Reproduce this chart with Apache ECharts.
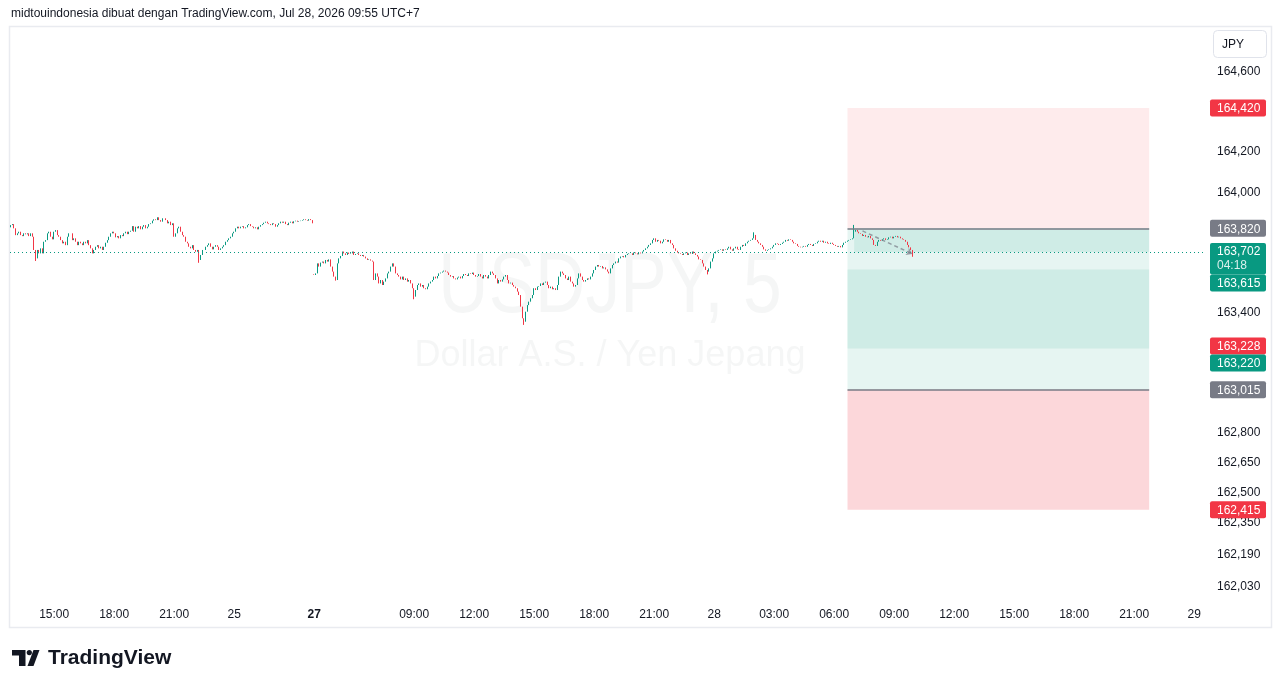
<!DOCTYPE html>
<html>
<head>
<meta charset="utf-8">
<title>USDJPY, 5</title>
<script src="https://cdn.jsdelivr.net/npm/echarts@6/dist/echarts.min.js"></script>
<style>
  html, body { margin: 0; padding: 0; background: #fff; }
  #chart { width: 1281px; height: 688px; }
</style>
</head>
<body>
<div id="chart"></div>
<script>
var FONT = '"Liberation Sans", Arial, sans-serif';

// 5-minute closes, Fri Jul 24 12:50 -> Sat Jul 25 03:55
var openJul24 = 163.825;
var closesJul24 = [
    163.836, 163.841, 163.820, 163.786, 163.795, 163.803, 163.786, 163.781, 163.795, 163.790, 163.795, 163.781,
    163.795, 163.778, 163.712, 163.670, 163.712, 163.695, 163.720, 163.695, 163.753, 163.761, 163.795, 163.803,
    163.778, 163.765, 163.803, 163.811, 163.786, 163.778, 163.761, 163.745, 163.753, 163.736, 163.778, 163.795,
    163.795, 163.761, 163.770, 163.753, 163.736, 163.753, 163.745, 163.736, 163.753, 163.745, 163.761, 163.736,
    163.720, 163.695, 163.712, 163.728, 163.736, 163.720, 163.728, 163.712, 163.728, 163.748, 163.761, 163.778,
    163.795, 163.803, 163.795, 163.775, 163.781, 163.770, 163.786, 163.781, 163.795, 163.803, 163.791, 163.803,
    163.808, 163.831, 163.803, 163.828, 163.820, 163.831, 163.815, 163.828, 163.836, 163.820, 163.828, 163.841,
    163.845, 163.858, 163.865, 163.861, 163.875, 163.861, 163.853, 163.870, 163.870, 163.861, 163.845, 163.853,
    163.836, 163.845, 163.778, 163.795, 163.820, 163.828, 163.803, 163.786, 163.778, 163.753, 163.745, 163.728,
    163.720, 163.736, 163.712, 163.703, 163.712, 163.662, 163.687, 163.712, 163.712, 163.728, 163.736, 163.745,
    163.728, 163.715, 163.728, 163.736, 163.728, 163.712, 163.720, 163.728, 163.736, 163.753, 163.761, 163.770,
    163.778, 163.795, 163.803, 163.820, 163.828, 163.820, 163.828, 163.831, 163.820, 163.825, 163.836, 163.841,
    163.831, 163.828, 163.820, 163.825, 163.815, 163.828, 163.836, 163.841, 163.848, 163.853, 163.845, 163.841,
    163.836, 163.845, 163.841, 163.828, 163.836, 163.845, 163.853, 163.848, 163.853, 163.841, 163.836, 163.848,
    163.853, 163.845, 163.855, 163.858, 163.853, 163.856, 163.858, 163.861, 163.865, 163.861, 163.858, 163.866,
    163.861, 163.845
];

// 5-minute closes, Mon Jul 27 04:00 -> Tue Jul 28 09:55
var openJul27 = 163.590;
var closesJul27 = [
    163.587, 163.595, 163.645, 163.629, 163.649, 163.654, 163.645, 163.662, 163.654, 163.665, 163.629, 163.604,
    163.579, 163.562, 163.645, 163.670, 163.682, 163.704, 163.695, 163.687, 163.699, 163.692, 163.695, 163.704,
    163.687, 163.692, 163.695, 163.687, 163.682, 163.687, 163.679, 163.670, 163.662, 163.665, 163.659, 163.654,
    163.562, 163.595, 163.579, 163.545, 163.562, 163.537, 163.554, 163.570, 163.595, 163.604, 163.629, 163.645,
    163.629, 163.595, 163.587, 163.579, 163.565, 163.579, 163.562, 163.570, 163.554, 163.562, 163.545, 163.521,
    163.479, 163.512, 163.537, 163.545, 163.529, 163.537, 163.521, 163.516, 163.529, 163.545, 163.554, 163.562,
    163.579, 163.570, 163.582, 163.595, 163.599, 163.604, 163.609, 163.604, 163.599, 163.587, 163.579, 163.582,
    163.570, 163.565, 163.574, 163.579, 163.570, 163.582, 163.592, 163.587, 163.582, 163.595, 163.592, 163.599,
    163.587, 163.579, 163.582, 163.592, 163.579, 163.570, 163.587, 163.579, 163.570, 163.587, 163.604, 163.595,
    163.587, 163.570, 163.545, 163.562, 163.554, 163.565, 163.579, 163.587, 163.562, 163.545, 163.549, 163.537,
    163.529, 163.521, 163.504, 163.487, 163.429, 163.371, 163.354, 163.404, 163.437, 163.454, 163.471, 163.487,
    163.521, 163.512, 163.529, 163.532, 163.545, 163.537, 163.549, 163.554, 163.537, 163.521, 163.529, 163.516,
    163.521, 163.512, 163.537, 163.579, 163.604, 163.595, 163.587, 163.570, 163.562, 163.579, 163.554, 163.545,
    163.529, 163.537, 163.570, 163.595, 163.579, 163.562, 163.554, 163.562, 163.570, 163.565, 163.579, 163.595,
    163.612, 163.629, 163.637, 163.629, 163.632, 163.620, 163.625, 163.615, 163.604, 163.595, 163.620, 163.637,
    163.645, 163.654, 163.649, 163.670, 163.679, 163.682, 163.675, 163.687, 163.692, 163.695,
    163.695, 163.687, 163.699, 163.695, 163.690, 163.699, 163.695, 163.704, 163.712, 163.720, 163.728, 163.737,
    163.745, 163.762, 163.770, 163.753, 163.762, 163.758, 163.745, 163.753, 163.765, 163.762, 163.753, 163.762,
    163.745, 163.737, 163.720, 163.708, 163.699, 163.695, 163.692, 163.687, 163.695, 163.699, 163.687, 163.695,
    163.692, 163.704, 163.695, 163.687, 163.679, 163.665, 163.662, 163.645, 163.629, 163.612, 163.604, 163.620,
    163.654, 163.670, 163.695, 163.704, 163.708, 163.712, 163.715, 163.708, 163.715, 163.712, 163.720, 163.728,
    163.715, 163.708, 163.720, 163.728, 163.715, 163.712, 163.728, 163.737, 163.732, 163.745, 163.753, 163.758,
    163.762, 163.770, 163.787, 163.762, 163.753, 163.745, 163.737, 163.728, 163.715, 163.708, 163.712, 163.715,
    163.720, 163.728, 163.737, 163.745, 163.742, 163.737, 163.742, 163.748, 163.753, 163.762, 163.758, 163.765,
    163.762, 163.753, 163.745, 163.742, 163.732, 163.728, 163.725, 163.728, 163.732, 163.728, 163.737, 163.742,
    163.737, 163.732, 163.742, 163.745, 163.753, 163.758, 163.753, 163.758, 163.748, 163.753, 163.745, 163.742,
    163.748, 163.742, 163.737, 163.732, 163.728, 163.732, 163.725, 163.737, 163.748, 163.753, 163.758, 163.762,
    163.765, 163.770, 163.803, 163.812, 163.803, 163.795, 163.792, 163.782, 163.787, 163.778, 163.775, 163.782,
    163.770, 163.762, 163.737, 163.732, 163.753, 163.762, 163.758, 163.765, 163.770, 163.762, 163.765, 163.775,
    163.778, 163.770, 163.778, 163.782, 163.775, 163.778, 163.770, 163.765, 163.762, 163.753, 163.737, 163.725,
    163.712, 163.702
];

// visible wick extremes (bar index, price)
var wickIdx = [15, 113, 195, 242, 308, 418, 446, 506, 541];
var wickPrice = [163.657, 163.648, 163.559, 163.466, 163.338, 163.590, 163.800, 163.837, 163.678];

var priceTicks = [164.6, 164.2, 164.0, 163.4, 162.8, 162.65, 162.5, 162.35, 162.19, 162.03];

var timeTicks = ['07-24 15:00', '07-24 18:00', '07-24 21:00', '07-25 00:00', '07-27 04:00', '07-27 09:00',
    '07-27 12:00', '07-27 15:00', '07-27 18:00', '07-27 21:00', '07-28 00:00', '07-28 03:00', '07-28 06:00',
    '07-28 09:00', '07-28 12:00', '07-28 15:00', '07-28 18:00', '07-28 21:00', '07-29 00:00'];
var timeTickText = ['15:00', '18:00', '21:00', '25', '27', '09:00', '12:00', '15:00', '18:00', '21:00',
    '28', '03:00', '06:00', '09:00', '12:00', '15:00', '18:00', '21:00', '29'];

var lastPrice = 163.702;
var countdown = '04:18';

// position tools
var shortEntry = 163.820, shortStop = 164.420, shortTarget = 163.220;
var longEntry = 163.015, longStop = 162.415, longTarget = 163.615;
var extraLevel = 163.228;
var posStart = '07-28 06:40', profitStart = '07-28 07:00', posEnd = '07-28 21:45';
var forecastTimes = ['07-28 07:25', '07-28 09:55'];
var forecastPrices = [163.807, 163.692];

var UP = '#089981', DOWN = '#f23645', GREY = '#787b86', TEXT = '#131722';

function pad(n) { return (n < 10 ? '0' : '') + n; }

function session(startMs, count) {
    var out = [];
    for (var i = 0; i < count; i++) {
        var d = new Date(startMs + i * 300000);
        out.push(pad(d.getUTCMonth() + 1) + '-' + pad(d.getUTCDate()) + ' ' + pad(d.getUTCHours()) + ':' + pad(d.getUTCMinutes()));
    }
    return out;
}

var categories = session(Date.UTC(2026, 6, 24, 12, 50), 182).concat(session(Date.UTC(2026, 6, 27, 4, 0), 535));

function toCandles(closes, firstOpen) {
    var out = [];
    var prev = firstOpen;
    closes.forEach(function (c) {
        out.push([prev, c, Math.min(prev, c), Math.max(prev, c)]);
        prev = c;
    });
    return out;
}

var candles = toCandles(closesJul24, openJul24).concat(toCandles(closesJul27, openJul27));
wickIdx.forEach(function (idx, n) {
    var k = candles[idx];
    var p = wickPrice[n];
    if (p < k[2]) k[2] = p;
    if (p > k[3]) k[3] = p;
});

var tickMap = {};
timeTicks.forEach(function (t, i) { tickMap[t] = timeTickText[i]; });

function fmt(v) { return v.toFixed(3).replace('.', ','); }

function zone(x1, x2, y1, y2, color) {
    return [{ xAxis: x1, yAxis: y1, itemStyle: { color: color } }, { xAxis: x2, yAxis: y2 }];
}

function hline(x1, x2, y, style) {
    return [{ coord: [x1, y], lineStyle: style }, { coord: [x2, y] }];
}

var chart = echarts.init(document.getElementById('chart'));

chart.setOption({
    animation: false,
    backgroundColor: '#ffffff',
    grid: { left: 10, top: 27, width: 1195, height: 571 },
    xAxis: {
        type: 'category',
        data: categories,
        boundaryGap: true,
        axisLine: { show: false },
        axisTick: { show: false },
        splitLine: { show: false },
        axisLabel: {
            interval: function (i, v) { return tickMap[v] !== undefined; },
            formatter: function (v) {
                var t = tickMap[v];
                return t === '27' ? '{b|27}' : t;
            },
            color: TEXT,
            fontSize: 12,
            fontFamily: FONT,
            margin: 11,
            rich: { b: { fontWeight: 'bold', fontSize: 12, color: TEXT, fontFamily: FONT } }
        }
    },
    yAxis: {
        type: 'value',
        position: 'right',
        min: 161.9752,
        max: 164.8246,
        axisLine: { show: false },
        axisTick: { show: false, customValues: priceTicks },
        splitLine: { show: false },
        axisLabel: {
            customValues: priceTicks,
            formatter: fmt,
            margin: 12,
            align: 'left',
            color: TEXT,
            fontSize: 12,
            fontFamily: FONT
        }
    },
    series: [
        {
            type: 'line',
            data: [],
            z: 1,
            silent: true,
            markArea: {
                silent: true,
                data: [
                    zone(posStart, posEnd, shortEntry, shortStop, 'rgba(242,54,69,0.1)'),
                    zone(posStart, posEnd, shortTarget, shortEntry, 'rgba(8,153,129,0.1)'),
                    zone(posStart, posEnd, longEntry, longTarget, 'rgba(8,153,129,0.1)'),
                    zone(posStart, posEnd, longStop, longEntry, 'rgba(242,54,69,0.2)'),
                    zone(profitStart, posEnd, lastPrice, shortEntry, 'rgba(8,153,129,0.1)')
                ]
            }
        },
        {
            type: 'candlestick',
            data: candles,
            z: 3,
            barWidth: 1.3,
            itemStyle: {
                color: UP, color0: DOWN,
                borderColor: UP, borderColor0: DOWN,
                borderWidth: 1
            },
            markLine: {
                silent: true,
                symbol: ['none', 'none'],
                label: { show: false },
                data: [
                    { yAxis: lastPrice, lineStyle: { color: UP, type: [1, 3], width: 1 } },
                    hline(posStart, posEnd, shortEntry, { color: GREY, type: 'solid', width: 1.5 }),
                    hline(posStart, posEnd, longEntry, { color: GREY, type: 'solid', width: 1.5 }),
                    [
                        { coord: [forecastTimes[0], forecastPrices[0]], symbol: 'none',
                          lineStyle: { color: 'rgba(120,123,134,0.7)', type: [4, 3], width: 1.5 } },
                        { coord: [forecastTimes[1], forecastPrices[1]], symbol: 'arrow', symbolSize: 6 }
                    ]
                ]
            }
        }
    ]
});

// price scale labels, header and logo
function py(v) { return chart.convertToPixel({ yAxisIndex: 0 }, v); }

var boxes = [
    { v: shortStop, bg: DOWN, dy: 0 },
    { v: shortEntry, bg: GREY, dy: 0 },
    { v: extraLevel, bg: DOWN, dy: -1 },
    { v: shortTarget, bg: UP, dy: 14.4 },
    { v: longEntry, bg: GREY, dy: 0 },
    { v: longStop, bg: DOWN, dy: 0 },
    { v: longTarget, bg: UP, dy: 13.6 }
];

var g = [];

g.push({
    type: 'rect', z: 0, silent: true,
    shape: { x: 9.5, y: 26.5, width: 1262, height: 601 },
    style: { fill: 'none', stroke: '#e9ebf0', lineWidth: 1.5 }
});

g.push({
    type: 'text', z: 0, silent: true, x: 610, y: 288, scaleX: 0.81,
    style: { text: 'USDJPY, 5', font: '86px ' + FONT, fill: 'rgba(120,123,134,0.07)', align: 'center', verticalAlign: 'middle' }
});
g.push({
    type: 'text', z: 0, silent: true, x: 610, y: 356,
    style: { text: 'Dollar A.S. / Yen Jepang', font: '36px ' + FONT, fill: 'rgba(120,123,134,0.07)', align: 'center', verticalAlign: 'middle' }
});

boxes.forEach(function (b) {
    var y = py(b.v) + b.dy;
    g.push({ type: 'rect', z: 10, shape: { x: 1210, y: y - 8.5, width: 56, height: 17, r: 2 }, style: { fill: b.bg } });
    g.push({ type: 'text', z: 11, x: 1217, y: y + 1, style: { text: fmt(b.v), font: '12px ' + FONT, fill: '#ffffff', align: 'left', verticalAlign: 'middle' } });
});

var ly = py(lastPrice);
g.push({ type: 'rect', z: 10, shape: { x: 1210, y: ly - 9, width: 56, height: 31.5, r: 2 }, style: { fill: UP } });
g.push({ type: 'text', z: 11, x: 1217, y: ly, style: { text: fmt(lastPrice), font: '12px ' + FONT, fill: '#ffffff', align: 'left', verticalAlign: 'middle' } });
g.push({ type: 'text', z: 11, x: 1217, y: ly + 13.5, style: { text: countdown, font: '12px ' + FONT, fill: 'rgba(255,255,255,0.85)', align: 'left', verticalAlign: 'middle' } });

g.push({ type: 'rect', z: 10, shape: { x: 1213.5, y: 30.5, width: 53, height: 27, r: 4 }, style: { fill: '#ffffff', stroke: '#e0e3eb', lineWidth: 1 } });
g.push({ type: 'text', z: 11, x: 1222, y: 45, style: { text: 'JPY', font: '12px ' + FONT, fill: TEXT, align: 'left', verticalAlign: 'middle' } });

g.push({
    type: 'text', x: 11, y: 14,
    style: { text: 'midtouindonesia dibuat dengan TradingView.com, Jul 28, 2026 09:55 UTC+7', font: '12px ' + FONT, fill: TEXT, align: 'left', verticalAlign: 'middle' }
});

// TradingView logo mark
g.push({ type: 'polygon', shape: { points: [[12, 650], [25.5, 650], [25.5, 666], [19, 666], [19, 655.5], [12, 655.5]] }, style: { fill: TEXT } });
g.push({ type: 'circle', shape: { cx: 29.3, cy: 652.6, r: 2.6 }, style: { fill: TEXT } });
g.push({ type: 'polygon', shape: { points: [[33.5, 650], [39.5, 650], [33.5, 666], [27.5, 666]] }, style: { fill: TEXT } });
g.push({ type: 'text', x: 48, y: 658, style: { text: 'TradingView', font: 'bold 21px ' + FONT, fill: TEXT, align: 'left', verticalAlign: 'middle' } });

chart.setOption({ graphic: g });
</script>
</body>
</html>
